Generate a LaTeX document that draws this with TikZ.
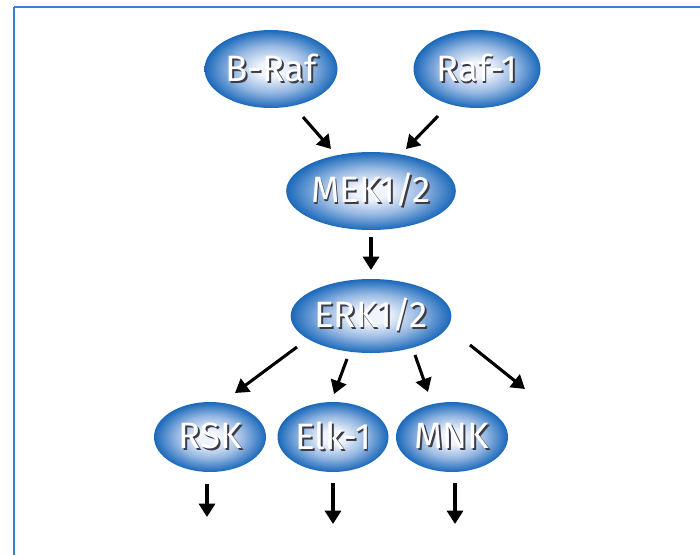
\documentclass[tikz,border=0pt]{standalone}
\usepackage{fontspec}
\setmainfont{Fira Sans}
\usetikzlibrary{arrows.meta,shapes.geometric}

\definecolor{framecol}{RGB}{62,126,208}
\definecolor{ellcenter}{RGB}{240,244,252}
\definecolor{ellmid}{RGB}{150,184,226}
\definecolor{elledge}{RGB}{26,104,186}
\definecolor{shadowcol}{RGB}{60,60,70}

% elliptical blue glow: pale centre fading to saturated blue at the rim
\pgfdeclareradialshading{kinaseglow}{\pgfpoint{0bp}{0bp}}{%
  color(0bp)=(ellcenter);
  color(5bp)=(ellcenter);
  color(15bp)=(ellmid);
  color(25bp)=(elledge);
  color(50bp)=(elledge)}

% white label with a dark drop shadow
\newcommand{\kinlabel}[1]{%
  \rlap{\kern1.4pt\raisebox{-1.4pt}{\textcolor{shadowcol}{#1}}}%
  \textcolor{white}{#1}}

\tikzset{
  kinase/.style 2 args={ellipse, inner sep=0pt,
    minimum width={#1*0.75pt}, minimum height={#2*0.75pt},
    shading=kinaseglow, font=\fontsize{27.5}{28}\selectfont},
  sig/.style={line width=2.3pt, draw=black,
    -{Triangle[length=10pt,width=12pt]}},
}

\begin{document}
\begin{tikzpicture}[x=0.75pt,y=-0.75pt]
  \useasboundingbox (0,0) rectangle (700,554);

  % frame
  \draw[framecol, line width=1.6pt] (14,7) -- (720,7);
  \draw[framecol, line width=1.6pt] (14,7) -- (14,570);

  % kinases
  \node[kinase={133}{78}] (braf) at (271,69) {\kinlabel{B-Raf}};
  \node[kinase={127}{78}] (raf1) at (477,69) {\kinlabel{Raf-1}};
  \node[kinase={155}{78}] (mek)  at (371,191) {\kinlabel{MEK1/2}};
  \node[kinase={154}{74}] (erk)  at (371,316) {\kinlabel{ERK1/2}};
  \node[kinase={112}{70}] (rsk) at (210,437) {\kinlabel{RSK}};
  \node[kinase={111}{70}] (elk) at (333,437) {\kinlabel{Elk-1}};
  \node[kinase={112}{70}] (mnk) at (452,437) {\kinlabel{MNK}};

  % arrow end points
  \coordinate (a1s) at (303,117); \coordinate (a1e) at (331,149);
  \coordinate (a2s) at (438,116); \coordinate (a2e) at (406,149);
  \coordinate (a3s) at (371,237); \coordinate (a3e) at (371,270);
  \coordinate (a4s) at (297,347); \coordinate (a4e) at (235,393);
  \coordinate (a5s) at (347,359); \coordinate (a5e) at (334,394);
  \coordinate (a6s) at (415,355); \coordinate (a6e) at (428,392);
  \coordinate (a7s) at (470,345); \coordinate (a7e) at (525,389);
  \coordinate (a8s) at (207,484); \coordinate (a8e) at (207,517);
  \coordinate (a9s) at (333,483); \coordinate (a9e) at (333,524);
  \coordinate (a10s) at (455,483); \coordinate (a10e) at (455,524);

  % signalling arrows
  \draw[sig] (a1s) -- (a1e);
  \draw[sig] (a2s) -- (a2e);
  \draw[sig] (a3s) -- (a3e);
  \draw[sig] (a4s) -- (a4e);
  \draw[sig] (a5s) -- (a5e);
  \draw[sig] (a6s) -- (a6e);
  \draw[sig] (a7s) -- (a7e);
  \draw[sig] (a8s) -- (a8e);
  \draw[sig] (a9s) -- (a9e);
  \draw[sig] (a10s) -- (a10e);
\end{tikzpicture}
\end{document}
